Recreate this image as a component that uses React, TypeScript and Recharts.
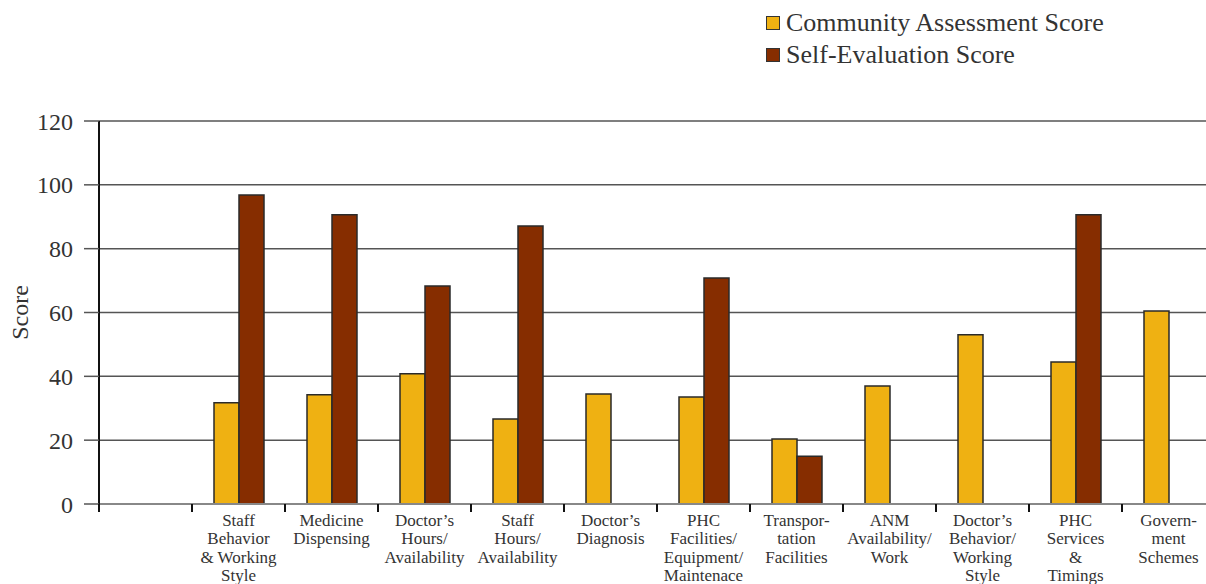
import React from "react";
import {
  BarChart, Bar, XAxis, YAxis, CartesianGrid, Label,
} from "recharts";

const CATEGORIES = [
  "",
  "Staff\nBehavior\n& Working\nStyle",
  "Medicine\nDispensing",
  "Doctor’s\nHours/\nAvailability",
  "Staff\nHours/\nAvailability",
  "Doctor’s\nDiagnosis",
  "PHC\nFacilities/\nEquipment/\nMaintenace",
  "Transpor-\ntation\nFacilities",
  "ANM\nAvailability/\nWork",
  "Doctor’s\nBehavior/\nWorking\nStyle",
  "PHC\nServices\n&\nTimings",
  "Govern-\nment\nSchemes",
];
const COMMUNITY = [null, 31.7, 34.2, 40.8, 26.6, 34.5, 33.5, 20.4, 37, 53, 44.5, 60.5];
const SELF_EVAL = [null, 96.8, 90.6, 68.3, 87.1, null, 70.8, 15.0, null, null, 90.6, null];
const Y_TICKS = [0, 20, 40, 60, 80, 100, 120];

const data = CATEGORIES.map((name, i) => ({
  name,
  community: COMMUNITY[i],
  self: SELF_EVAL[i],
}));

const FONT = "'Liberation Serif', 'Times New Roman', serif";
const TEXT = "#333";
const YELLOW = "#EFB112";
const BROWN = "#862D00";

const CHART_W = 1215;
const CHART_H = 584;
const Y_AXIS_W = 99;
const X_AXIS_H = 80;
const TOP = 121;
const PLOT_BOTTOM = CHART_H - X_AXIS_H;
const SLOT = (CHART_W - Y_AXIS_W) / CATEGORIES.length;

function XTick(props: any) {
  const { x, payload } = props;
  const lines = String(payload.value).split("\n");
  return (
    <g>
      <line
        x1={x - SLOT / 2} x2={x - SLOT / 2}
        y1={PLOT_BOTTOM} y2={PLOT_BOTTOM + 8}
        stroke="#111" strokeWidth={2}
      />
      {lines.map((l, i) => (
        <text
          key={i}
          x={x}
          y={PLOT_BOTTOM + 22 + i * 18.3}
          textAnchor="middle"
          fontFamily={FONT}
          fontSize={17}
          fill={TEXT}
        >
          {l}
        </text>
      ))}
    </g>
  );
}

function ScoreLabel(props: any) {
  const { viewBox } = props;
  const cx = viewBox.x + 28;
  const cy = viewBox.y + viewBox.height / 2;
  return (
    <text
      x={cx} y={cy}
      transform={`rotate(-90, ${cx}, ${cy})`}
      textAnchor="middle"
      fontFamily={FONT}
      fontSize={24}
      fill={TEXT}
    >
      Score
    </text>
  );
}

function LegendBox() {
  const items = [
    { color: YELLOW, label: "Community Assessment Score" },
    { color: BROWN, label: "Self-Evaluation Score" },
  ];
  return (
    <div
      style={{
        position: "absolute", top: 7, left: 766,
        fontFamily: FONT, fontSize: 26, color: TEXT,
      }}
    >
      {items.map((it) => (
        <div
          key={it.label}
          style={{ display: "flex", alignItems: "center", height: 32 }}
        >
          <div
            style={{
              width: 12, height: 12, background: it.color,
              border: "1.5px solid #333", marginRight: 6,
            }}
          />
          <span>{it.label}</span>
        </div>
      ))}
    </div>
  );
}

export default function App() {
  return (
    <div
      style={{
        position: "absolute", top: 0, left: 0,
        width: 1206, height: CHART_H, overflow: "hidden", background: "#fff",
      }}
    >
      <LegendBox />
      <BarChart
        width={CHART_W}
        height={CHART_H}
        data={data}
        margin={{ top: TOP, right: 0, left: 0, bottom: 0 }}
        barCategoryGap={22}
        barGap={0}
      >
        <CartesianGrid
          vertical={false}
          stroke="#555"
          strokeWidth={1.5}
        />
        <XAxis
          dataKey="name"
          interval={0}
          height={X_AXIS_H}
          tickLine={false}
          axisLine={{ stroke: "#888", strokeWidth: 2 }}
          tick={<XTick />}
        />
        <YAxis
          width={Y_AXIS_W}
          domain={[0, 120]}
          ticks={Y_TICKS}
          interval={0}
          tickSize={15}
          tickMargin={11}
          tickLine={{ stroke: "#555", strokeWidth: 1.5 }}
          axisLine={{ stroke: "#111", strokeWidth: 2 }}
          tick={{ fontFamily: FONT, fontSize: 24, fill: TEXT }}
        >
          <Label content={<ScoreLabel />} />
        </YAxis>
        <Bar
          dataKey="community"
          name="Community Assessment Score"
          fill={YELLOW}
          stroke="#2a2a2a"
          strokeWidth={1.5}
          isAnimationActive={false}
        />
        <Bar
          dataKey="self"
          name="Self-Evaluation Score"
          fill={BROWN}
          stroke="#2a2a2a"
          strokeWidth={1.5}
          isAnimationActive={false}
        />
      </BarChart>
    </div>
  );
}
